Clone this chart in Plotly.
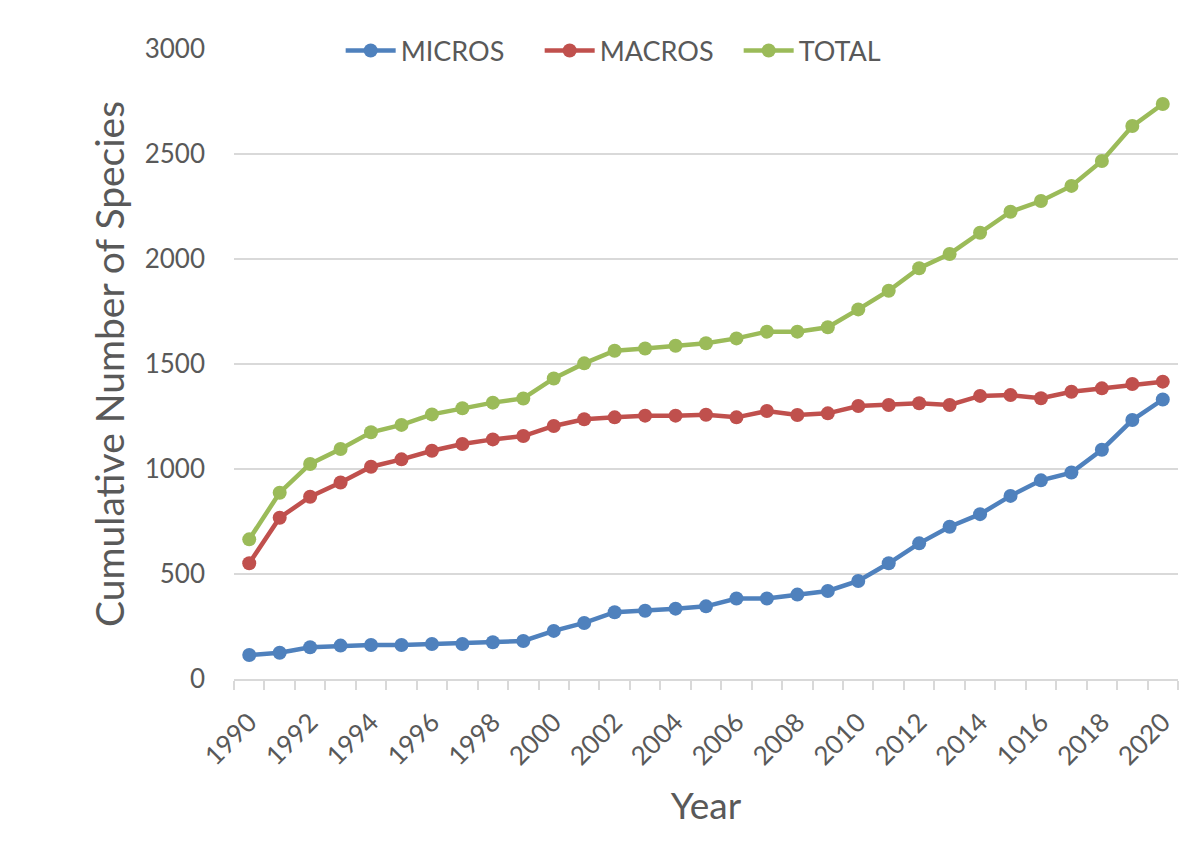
import plotly.graph_objects as go

years = list(range(1990, 2021))
tick_years = list(range(1990, 2021, 2))
tick_labels = ["1990", "1992", "1994", "1996", "1998", "2000", "2002", "2004",
               "2006", "2008", "2010", "2012", "2014", "1016", "2018", "2020"]

micros = [114, 125, 151, 159, 162, 162, 167, 167, 175, 181, 229, 267, 318, 325, 335, 346,
          383, 383, 402, 419, 467, 551, 646, 725, 785, 872, 946, 983, 1092, 1233, 1331]
macros = [551, 768, 868, 936, 1011, 1046, 1087, 1119, 1141, 1157, 1205, 1237, 1246, 1254, 1254, 1258,
          1246, 1276, 1257, 1265, 1300, 1305, 1313, 1305, 1348, 1352, 1337, 1368, 1384, 1405, 1416]
total = [665, 887, 1024, 1095, 1175, 1210, 1260, 1289, 1316, 1336, 1431, 1503, 1563, 1574, 1587, 1599,
         1622, 1654, 1654, 1675, 1760, 1849, 1956, 2024, 2125, 2225, 2276, 2348, 2467, 2633, 2738]

series = [("MICROS", micros, "#4F81BD"), ("MACROS", macros, "#C0504D"), ("TOTAL", total, "#9BBB59")]

FONT = "Lato, Carlito, Calibri, sans-serif"
TXT = "#595959"
GRID = "#D9D9D9"

fig = go.Figure()
for name, vals, col in series:
    fig.add_trace(go.Scatter(x=years, y=vals, name=name, mode="lines+markers",
                             line=dict(color=col, width=4.5),
                             marker=dict(color=col, size=14)))

fig.update_layout(
    width=1194, height=859,
    margin=dict(l=234, r=16, t=49, b=180),
    paper_bgcolor="white", plot_bgcolor="white",
    font=dict(family=FONT, color=TXT, size=26),
    showlegend=True,
    legend=dict(orientation="h", x=0.113, xanchor="left", y=0.997, yanchor="middle",
                bgcolor="rgba(0,0,0,0)", font=dict(size=27, color=TXT),
                itemwidth=50, entrywidth=134, entrywidthmode="pixels", traceorder="normal"),
)
fig.update_xaxes(
    range=[1989.5, 2020.5], tickmode="array", tickvals=tick_years, ticktext=tick_labels,
    tickangle=-45, tickfont=dict(size=26, color=TXT), ticks="", ticklabelstandoff=16,
    showgrid=False, zeroline=False, showline=True, linecolor=GRID, linewidth=1.5,
    minor=dict(tickmode="linear", tick0=1989.5, dtick=1, ticks="outside", ticklen=9,
               tickcolor=GRID, tickwidth=1.5, showgrid=False),
    title=dict(text="Year", font=dict(size=37, color=TXT), standoff=23),
)
fig.update_yaxes(
    range=[0, 3000], tickvals=[0, 500, 1000, 1500, 2000, 2500, 3000],
    tickfont=dict(size=26, color=TXT), ticks="", ticklabelstandoff=28,
    showgrid=True, gridcolor=GRID, gridwidth=1.5, zeroline=False, showline=False,
    title=dict(text="Cumulative Number of Species", font=dict(size=39, color=TXT), standoff=8),
)

fig.write_html("out.html")
